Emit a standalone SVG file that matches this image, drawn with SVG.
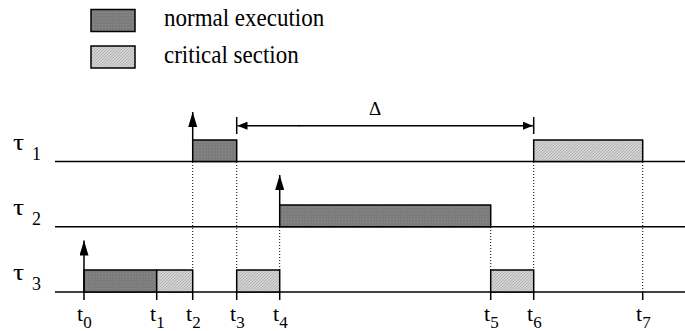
<svg xmlns="http://www.w3.org/2000/svg" width="685" height="331" viewBox="0 0 685 331">
<defs>
<pattern id="dark" width="3" height="3" patternUnits="userSpaceOnUse">
<rect width="3" height="3" fill="#7c7c7c"/>
<rect x="0" y="0" width="1" height="1" fill="#8e8e8e"/>
</pattern>
<pattern id="light" width="3" height="3" patternUnits="userSpaceOnUse">
<rect width="3" height="3" fill="#d2d2d2"/>
<path d="M0,3 L3,0" stroke="#a9a9a9" stroke-width="0.8"/>
</pattern>
<marker id="ah" viewBox="0 0 15 9" refX="15" refY="4.5" markerWidth="15" markerHeight="9" markerUnits="userSpaceOnUse" orient="auto">
<path d="M0,0 L15,4.5 L0,9 z" fill="#000"/>
</marker>
<marker id="ahd" viewBox="0 0 10 8" refX="10" refY="4" markerWidth="10" markerHeight="8" markerUnits="userSpaceOnUse" orient="auto">
<path d="M0,0 L10,4 L0,8 z" fill="#000"/>
</marker>
</defs>
<style>
.lbl{font-size:23px}
.tl{font-size:22px}
.sub{font-size:17px}
.tau{font-size:23px}
.tsub{font-size:18px}
.axis{stroke:#000;stroke-width:1.5;fill:none}
.tick{stroke:#000;stroke-width:1.5}
.dot{stroke:#000;stroke-width:1;stroke-dasharray:1,2}
.ne{fill:url(#dark);stroke:#000;stroke-width:1.5}
.cs{fill:url(#light);stroke:#000;stroke-width:1.5}
.arr{stroke:#000;stroke-width:1.5;fill:none}
</style>
<g font-family="Liberation Serif, Times New Roman, serif" fill="#000">
<g id="legend">
<rect class="ne" x="91" y="9.5" width="44" height="22"/>
<text class="lbl" transform="translate(164,26) scale(1,1.13)">normal execution</text>
<rect class="cs" x="91" y="46" width="44" height="22"/>
<text class="lbl" transform="translate(164,63) scale(1,1.13)">critical section</text>
</g>
<g id="tau1">
<text class="tau" transform="translate(13,149.5) scale(1.2,1)">τ</text>
<text class="tsub" x="32" y="159.5">1</text>
<line class="axis" x1="55" y1="161.5" x2="685" y2="161.5"/>
<rect class="ne" x="192.7" y="140" width="44" height="21.5"/>
<rect class="cs" x="533.7" y="140" width="109" height="21.5"/>
</g>
<g id="tau2">
<text class="tau" transform="translate(13,214.5) scale(1.2,1)">τ</text>
<text class="tsub" x="32" y="224.5">2</text>
<line class="axis" x1="55" y1="226.7" x2="685" y2="226.7"/>
<rect class="ne" x="279.7" y="205" width="211" height="21.7"/>
</g>
<g id="tau3">
<text class="tau" transform="translate(13,280) scale(1.2,1)">τ</text>
<text class="tsub" x="32" y="290">3</text>
<line class="axis" x1="55" y1="292" x2="685" y2="292"/>
<rect class="ne" x="84" y="270" width="72.7" height="22"/>
<rect class="cs" x="156.7" y="270" width="36" height="22"/>
<rect class="cs" x="236.7" y="270" width="43" height="22"/>
<rect class="cs" x="490.7" y="270" width="43" height="22"/>
</g>
<g id="connectors">
<line class="arr" x1="192.7" y1="140" x2="192.7" y2="112" marker-end="url(#ah)"/>
<line class="arr" x1="279.7" y1="205" x2="279.7" y2="175" marker-end="url(#ah)"/>
<line class="arr" x1="84" y1="300" x2="84" y2="240.5" marker-end="url(#ah)"/>
<line class="dot" x1="192.7" y1="162" x2="192.7" y2="270"/>
<line class="dot" x1="236.7" y1="162" x2="236.7" y2="270"/>
<line class="dot" x1="279.7" y1="227" x2="279.7" y2="270"/>
<line class="dot" x1="490.7" y1="227" x2="490.7" y2="270"/>
<line class="dot" x1="533.7" y1="162" x2="533.7" y2="270"/>
<line class="dot" x1="642.7" y1="162" x2="642.7" y2="292"/>
<line class="tick" x1="156.7" y1="292" x2="156.7" y2="300"/>
<line class="tick" x1="192.7" y1="292" x2="192.7" y2="300"/>
<line class="tick" x1="236.7" y1="292" x2="236.7" y2="300"/>
<line class="tick" x1="279.7" y1="292" x2="279.7" y2="300"/>
<line class="tick" x1="490.7" y1="292" x2="490.7" y2="300"/>
<line class="tick" x1="533.7" y1="292" x2="533.7" y2="300"/>
<line class="tick" x1="642.7" y1="292" x2="642.7" y2="300"/>
<line class="tick" x1="236.7" y1="117" x2="236.7" y2="134"/>
<line class="tick" x1="533.7" y1="117" x2="533.7" y2="134"/>
<line class="arr" x1="300" y1="125.7" x2="237.5" y2="125.7" marker-end="url(#ahd)"/>
<line class="arr" x1="299" y1="125.7" x2="532.9" y2="125.7" marker-end="url(#ahd)"/>
<text x="375" y="115" font-size="19" text-anchor="middle">Δ</text>
</g>
<g id="tlabels">
<text class="tl" x="77" y="321">t<tspan class="sub" dy="7">0</tspan></text>
<text class="tl" x="150" y="321">t<tspan class="sub" dy="7">1</tspan></text>
<text class="tl" x="186" y="321">t<tspan class="sub" dy="7">2</tspan></text>
<text class="tl" x="230" y="321">t<tspan class="sub" dy="7">3</tspan></text>
<text class="tl" x="273" y="321">t<tspan class="sub" dy="7">4</tspan></text>
<text class="tl" x="484" y="321">t<tspan class="sub" dy="7">5</tspan></text>
<text class="tl" x="527" y="321">t<tspan class="sub" dy="7">6</tspan></text>
<text class="tl" x="636" y="321">t<tspan class="sub" dy="7">7</tspan></text>
</g>
</g>
</svg>
